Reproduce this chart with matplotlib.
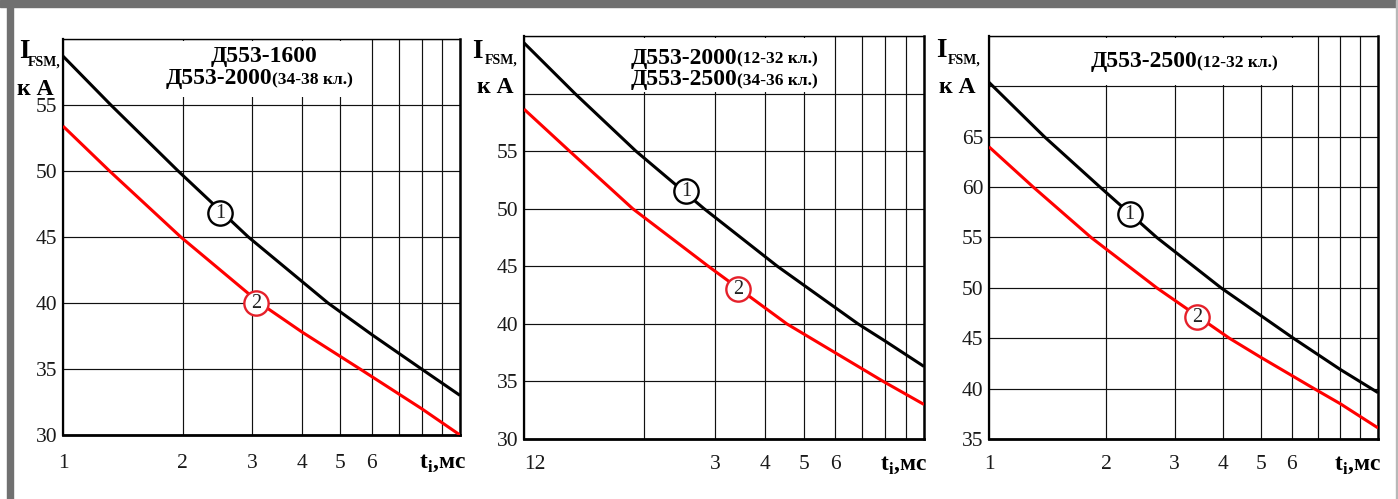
import matplotlib
matplotlib.use('Agg')
import matplotlib.pyplot as plt
from matplotlib.patches import Rectangle

plt.rcParams['font.family'] = ['Liberation Serif', 'DejaVu Serif']
plt.rcParams['mathtext.fontset'] = 'custom'
plt.rcParams['mathtext.rm'] = 'Liberation Serif'
plt.rcParams['mathtext.bf'] = 'Liberation Serif:bold'

W, H = 1398, 499

# curves: pulse duration t (ms) -> I_FSM (kA)
# curve 1 = black, curve 2 = red
p1_t1 = [1, 1.32, 1.95, 2.93, 4.65, 6, 8.0, 10]
p1_i1 = [58.7, 55, 50, 45, 40, 37.6, 35, 33.0]
p1_t2 = [1, 1.31, 1.98, 3.13, 4, 5.6, 8, 10]
p1_i2 = [53.4, 50, 45, 40, 37.8, 35, 32.0, 30.0]

p2_t1 = [1, 1.341, 1.905, 2.82, 4.3, 6.84, 8, 10]
p2_i1 = [64.4, 60, 55, 50, 45, 40, 38.5, 36.3]
p2_t2 = [1, 1.30, 1.87, 2.89, 4.54, 7.91, 10]
p2_i2 = [58.65, 55, 50, 45, 40, 35, 33.0]

p3_t1 = [1, 1.388, 1.93, 2.70, 3.95, 6.06, 8, 10]
p3_i1 = [70.4, 65, 60, 55, 50, 45, 41.9, 39.6]
p3_t2 = [1, 1.30, 1.83, 2.70, 4.15, 5, 6.85, 8, 10]
p3_i2 = [64.0, 60, 55, 50, 45, 43.1, 40, 38.5, 36.1]

# circled curve numbers (t, I)
p1_marks = [(2.49, 46.8), (3.06, 40.0)]
p2_marks = [(2.54, 51.5), (3.43, 43.0)]
p3_marks = [(2.30, 57.3), (3.43, 47.1)]

x_ticks = [1, 2, 3, 4, 5, 6, 7, 8, 9, 10]
x_labels = ['1', '2', '3', '4', '5', '6', '', '', '', '']
x_labels_p2 = ['12', '', '3', '4', '5', '6', '', '', '', '']

p1_titles = [('Д553-1600', ''), ('Д553-2000', '(34-38 кл.)')]
p2_titles = [('Д553-2000', '(12-32 кл.)'), ('Д553-2500', '(34-36 кл.)')]
p3_titles = [('Д553-2500', '(12-32 кл.)')]


def px(x, y):
    return x / W, 1 - y / H


fig = plt.figure(figsize=(W / 100, H / 100), dpi=100)

# grey frame
fig.patches.append(Rectangle((0, 1 - 7 / H), 1, 7 / H, transform=fig.transFigure,
                             color='#707070', zorder=0))
fig.patches.append(Rectangle((7 / W, 0), 6 / W, 1, transform=fig.transFigure,
                             color='#707070', zorder=0))
fig.patches.append(Rectangle((1396 / W, 0), 2 / W, 1, transform=fig.transFigure,
                             color='#b8b8b8', zorder=0))

panels = [
    dict(rect=(63, 39, 460, 435), ylim=(30, 60), ylab_top=55,
         c1=(p1_t1, p1_i1), c2=(p1_t2, p1_i2),
         marks=p1_marks, xl=x_labels, titles=p1_titles, box=(0.257, 0.756, 0.853),
         title_x=(0.506, 0.526), title_y=[0.955, 0.899], xpad=14,
         lab=dict(I=(19, 58), FSM=(28, 66), kA=(17, 95), t=(466, 468))),
    dict(rect=(524, 36, 924, 439), ylim=(30, 65), ylab_top=55,
         c1=(p2_t1, p2_i1), c2=(p2_t2, p2_i2),
         marks=p2_marks, xl=x_labels_p2, titles=p2_titles, box=(0.26, 0.765, 0.862),
         title_x=(0.5325, 0.5325), title_y=[0.945, 0.891], xpad=11.5,
         lab=dict(I=(472, 58), FSM=(485, 64), kA=(477, 93), t=(927, 470))),
    dict(rect=(989, 36, 1378, 439), ylim=(35, 75), ylab_top=65,
         c1=(p3_t1, p3_i1), c2=(p3_t2, p3_i2),
         marks=p3_marks, xl=x_labels, titles=p3_titles, box=(0.247, 0.787, 0.878),
         title_x=(0.535, 0.535), title_y=[0.9355], xpad=11.5,
         lab=dict(I=(936, 57), FSM=(948, 64), kA=(939, 93), t=(1381, 470))),
]

for p in panels:
    x0, y0, x1, y1 = p['rect']
    ax = fig.add_axes([x0 / W, 1 - y1 / H, (x1 - x0) / W, (y1 - y0) / H])
    ax.set_xscale('log')
    ax.set_xlim(1, 10)
    ax.set_ylim(*p['ylim'])
    ax.set_xticks(x_ticks)
    ax.set_xticklabels(p['xl'])
    ax.xaxis.set_minor_locator(matplotlib.ticker.NullLocator())
    yt = list(range(p['ylim'][0], p['ylim'][1] + 1, 5))
    ax.set_yticks(yt)
    ax.set_yticklabels([str(v) if v <= p['ylab_top'] else '' for v in yt])
    ax.tick_params(axis='both', length=0, labelsize=15.5, colors='#1a1a1a')
    ax.tick_params(axis='x', pad=p['xpad'])
    ax.tick_params(axis='y', pad=4)
    if p['xl'][0] == '12':
        ax.get_xticklabels()[0].set_ha('left')
    ax.set_axisbelow(True)
    ax.grid(True, color='#111111', lw=0.85)
    for side, lw in [('bottom', 2.0), ('left', 1.6), ('right', 1.8), ('top', 1.0)]:
        ax.spines[side].set_linewidth(lw)
        ax.spines[side].set_color('black')

    bx0, bx1, by0 = p['box']
    ax.add_patch(Rectangle((bx0, by0), bx1 - bx0, 1 - by0 - 0.004, transform=ax.transAxes,
                           facecolor='white', edgecolor='none', zorder=1.5))

    ax.plot(*p['c1'], color='black', lw=2.2, zorder=3, solid_capstyle='butt',
            solid_joinstyle='round')
    ax.plot(*p['c2'], color='#ff0000', lw=2.2, zorder=3, solid_capstyle='butt',
            solid_joinstyle='round')

    for (mt, mi), ec, num in zip(p['marks'], ['black', '#e5202a'], ['1', '2']):
        ax.plot([mt], [mi], marker='o', ms=17.5, mfc='white', mec=ec, mew=1.7, zorder=5)
        ax.text(mt, mi, num, ha='center', va='center', fontsize=14.5, color='#222222',
                zorder=6)

    # model titles
    for i, (big, small) in enumerate(p['titles']):
        ty = p['title_y'][i]
        if small:
            ax.text(p['title_x'][1], ty, big, transform=ax.transAxes, ha='right',
                    va='center', fontsize=17, fontweight='bold', zorder=4)
            ax.text(p['title_x'][1], ty - 0.004, small, transform=ax.transAxes, ha='left',
                    va='center', fontsize=12.5, fontweight='bold', zorder=4)
        else:
            ax.text(p['title_x'][0], ty, big, transform=ax.transAxes, ha='center',
                    va='center', fontsize=17, fontweight='bold', zorder=4)

    lab = p['lab']
    fig.text(*px(*lab['I']), 'I', fontsize=19.5, fontweight='bold', va='baseline', ha='left')
    fig.text(*px(*lab['FSM']), 'FSM,', fontsize=10, fontweight='bold', va='baseline',
             ha='left')
    fig.text(*px(*lab['kA']), 'к А', fontsize=17, fontweight='bold', va='baseline', ha='left')
    fig.text(*px(*lab['t']), r'$\mathbf{t}_\mathbf{i}$,мс', fontsize=17, fontweight='bold',
             va='baseline', ha='right')

fig.savefig('out.png', dpi=100)
